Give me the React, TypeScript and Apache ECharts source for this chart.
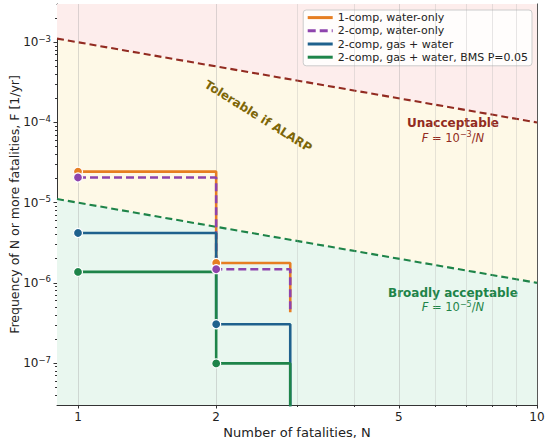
import React, { useEffect, useRef } from "react";
import * as echarts from "echarts";

// ---- data ----
const stepN = [1, 2, 2.9];
const oneCompWaterF = [2.44e-5, 1.77e-6];
const oneCompWaterEnd = 4.3e-7;
const twoCompWaterF = [2.06e-5, 1.48e-6];
const twoCompWaterEnd = 4.3e-7;
const twoCompGasF = [4.19e-6, 3.05e-7];
const twoCompGasEnd = 1e-9;
const bmsF = [1.37e-6, 9.9e-8];
const bmsEnd = 1e-9;

const criteriaN = [0.9, 10];
const unacceptableF = [1.111e-3, 1e-4];
const broadlyF = [1.111e-5, 1e-6];

const xMajorTicks = [1, 2, 5, 10];
const xMinorTicks = [3, 4, 6, 7, 8, 9];
const yMajorTicks = [1e-7, 1e-6, 1e-5, 1e-4, 1e-3];
const yMinorMantissas = [2, 3, 4, 5, 6, 7, 8, 9];
const yDecades = [1e-8, 1e-7, 1e-6, 1e-5, 1e-4, 1e-3];

const X_MIN = 0.9;
const X_MAX = 10;
const Y_MIN = 3e-8;
const Y_MAX = 3e-3;

const yMinorTicks: number[] = [];
yDecades.forEach((d) =>
  yMinorMantissas.forEach((m) => {
    const v = m * d;
    if (v > Y_MIN * 1.0001 && v < Y_MAX * 0.9999) yMinorTicks.push(v);
  })
);

const C_ORANGE = "#e67e22";
const C_PURPLE = "#8e44ad";
const C_BLUE = "#1f618d";
const C_GREEN = "#1e8449";
const C_RED = "#922b21";
const C_OLIVE = "#7d6608";
const FONT = "DejaVu Sans";

function stepLine(F: number[], end: number) {
  const pts: number[][] = [];
  for (let i = 0; i < F.length; i++) {
    pts.push([stepN[i], F[i]]);
    pts.push([stepN[i + 1], F[i]]);
  }
  pts.push([stepN[F.length], end]);
  return pts;
}

function markers(F: number[]) {
  return F.map((f, i) => [stepN[i], f]);
}

function zip(a: number[], b: number[]) {
  return a.map((v, i) => [v, b[i]]);
}

function supFmt(v: number) {
  const e = Math.round(Math.log10(v));
  return `{b|10}{s|${e < 0 ? "\u2212" + -e : e}}`;
}

const mathRich = (color: string) => ({
  i: { fontStyle: "italic", fontSize: 11.5, color, fontFamily: FONT },
  n: { fontSize: 11.5, color, fontFamily: FONT },
  s: { fontSize: 8, color, fontFamily: FONT, verticalAlign: "top", padding: [0, 0, 6, 0] },
  t: { fontSize: 12, fontWeight: "bold", color, fontFamily: FONT, lineHeight: 15 },
});

export default function App() {
  const ref = useRef<HTMLDivElement>(null);

  useEffect(() => {
    if (!ref.current) return;
    const chart = echarts.init(ref.current, undefined, { renderer: "svg" });

    const stepSeries = (name: string, F: number[], end: number, color: string, dashed: boolean) => ({
      name,
      type: "line",
      data: stepLine(F, end),
      symbol: "none",
      clip: true,
      z: 5,
      lineStyle: { color, width: 2.6, type: dashed ? [8, 4] : "solid" },
      itemStyle: { color },
    });
    const markerSeries = (F: number[], color: string) => ({
      name: "m_" + color,
      type: "scatter",
      data: markers(F),
      symbol: "circle",
      symbolSize: 9,
      z: 6,
      itemStyle: { color, borderColor: "#ffffff", borderWidth: 1.2, opacity: 1 },
    });

    const gridLine = (color: string, opacity: number) => ({
      silent: true,
      symbol: "none",
      label: { show: false },
      lineStyle: { color, width: 0.8, type: "solid", opacity },
      emphasis: { disabled: true },
      animation: false,
    });

    const annotation = (name: string, point: number[], label: any) => ({
      name,
      type: "scatter",
      data: [point],
      symbolSize: 0,
      silent: true,
      z: 4,
      itemStyle: { opacity: 1 },
      label: { show: true, position: "inside", opacity: 1, ...label },
    });

    const option: any = {
      animation: false,
      textStyle: { fontFamily: FONT },
      grid: {
        left: 57,
        right: 13,
        top: 4,
        bottom: 41,
        show: true,
        backgroundColor: "#fef9e7",
        borderWidth: 0,
        containLabel: false,
        outerBoundsMode: "none",
      },
      legend: {
        data: [
          "1-comp, water-only",
          "2-comp, water-only",
          "2-comp, gas + water",
          "2-comp, gas + water, BMS P=0.05",
        ],
        orient: "vertical",
        right: 18,
        top: 10,
        itemWidth: 25,
        itemHeight: 14,
        itemGap: 2,
        padding: [2, 4, 3, 3],
        backgroundColor: "rgba(255,255,255,0.85)",
        borderColor: "#cccccc",
        borderWidth: 1,
        borderRadius: 3,
        itemStyle: { opacity: 0, borderWidth: 0 },
        lineStyle: { width: 3 },
        textStyle: { fontSize: 11, color: "#222", fontFamily: FONT },
      },
      xAxis: [
        {
          type: "log",
          logBase: 10,
          min: X_MIN,
          max: X_MAX,
          name: "Number of fatalities, N",
          nameLocation: "middle",
          nameGap: 21,
          nameMoveOverlap: false,
          nameTextStyle: { fontSize: 13, color: "#222", fontFamily: FONT },
          axisLine: { show: true, lineStyle: { color: "#333", width: 1 } },
          axisTick: { show: true, customValues: xMajorTicks, length: 3.5, lineStyle: { color: "#333" } },
          axisLabel: {
            show: true,
            customValues: xMajorTicks,
            fontSize: 12,
            color: "#222",
            margin: 6,
            formatter: (v: number) => String(Math.round(v)),
          },
          splitLine: { show: false },
          minorTick: { show: false },
        },
        {
          type: "log",
          logBase: 10,
          min: X_MIN,
          max: X_MAX,
          position: "bottom",
          axisLine: { show: false },
          axisTick: { show: true, customValues: xMinorTicks, length: 2, lineStyle: { color: "#333" } },
          axisLabel: { show: false },
          splitLine: { show: false },
        },
        {
          type: "log",
          logBase: 10,
          min: X_MIN,
          max: X_MAX,
          position: "top",
          axisLine: { show: true, lineStyle: { color: "#333", width: 1 } },
          axisTick: { show: false },
          axisLabel: { show: false },
          splitLine: { show: false },
        },
      ],
      yAxis: [
        {
          type: "log",
          logBase: 10,
          min: Y_MIN,
          max: Y_MAX,
          position: "left",
          name: "Frequency of N or more fatalities, F [1/yr]",
          nameLocation: "middle",
          nameGap: 36,
          nameMoveOverlap: false,
          nameTextStyle: { fontSize: 12.5, color: "#222", fontFamily: FONT },
          axisLine: { show: true, lineStyle: { color: "#333", width: 1 } },
          axisTick: { show: true, customValues: yMajorTicks, length: 3.5, lineStyle: { color: "#333" } },
          axisLabel: {
            show: true,
            customValues: yMajorTicks,
            margin: 6,
            formatter: supFmt,
            rich: {
              b: { fontSize: 12, color: "#222", fontFamily: FONT },
              s: { fontSize: 8.5, color: "#222", fontFamily: FONT, verticalAlign: "top", padding: [0, 0, 7, 0] },
            },
          },
          splitLine: { show: false },
        },
        {
          type: "log",
          logBase: 10,
          min: Y_MIN,
          max: Y_MAX,
          position: "left",
          axisLine: { show: false },
          axisTick: { show: true, customValues: yMinorTicks, length: 2, lineStyle: { color: "#333" } },
          axisLabel: { show: false },
          splitLine: { show: false },
        },
        {
          type: "log",
          logBase: 10,
          min: Y_MIN,
          max: Y_MAX,
          position: "right",
          axisLine: { show: true, lineStyle: { color: "#333", width: 1 } },
          axisTick: { show: false },
          axisLabel: { show: false },
          splitLine: { show: false },
        },
      ],
      series: [
        // background regions
        {
          name: "unacc_area",
          type: "line",
          data: zip(criteriaN, unacceptableF),
          symbol: "none",
          z: 1,
          silent: true,
          lineStyle: { width: 0 },
          areaStyle: { origin: "end", color: "#fdedec", opacity: 1 },
        },
        {
          name: "broad_area",
          type: "line",
          data: zip(criteriaN, broadlyF),
          symbol: "none",
          z: 1,
          silent: true,
          lineStyle: { width: 0 },
          areaStyle: { origin: "start", color: "#e9f7ef", opacity: 1 },
        },
        // grid lines
        {
          name: "grid_major",
          type: "line",
          data: [],
          z: 2,
          markLine: {
            ...gridLine("#9e9e9e", 0.45),
            data: [
              ...xMajorTicks.map((v) => ({ xAxis: v })),
              ...yMajorTicks.map((v) => ({ yAxis: v })),
            ],
          },
        },
        {
          name: "grid_minor",
          type: "line",
          data: [],
          z: 2,
          markLine: {
            ...gridLine("#a8a8a8", 0.35),
            data: [
              ...xMinorTicks.map((v) => ({ xAxis: v })),
              ...yMinorTicks.map((v) => ({ yAxis: v })),
            ],
          },
        },
        // criteria lines
        {
          name: "unacc_line",
          type: "line",
          data: zip(criteriaN, unacceptableF),
          symbol: "none",
          z: 3,
          silent: true,
          lineStyle: { color: C_RED, width: 2.1, type: [7, 4] },
        },
        {
          name: "broad_line",
          type: "line",
          data: zip(criteriaN, broadlyF),
          symbol: "none",
          z: 3,
          silent: true,
          lineStyle: { color: C_GREEN, width: 2.1, type: [7, 4] },
        },
        // step curves
        stepSeries("1-comp, water-only", oneCompWaterF, oneCompWaterEnd, C_ORANGE, false),
        markerSeries(oneCompWaterF, C_ORANGE),
        stepSeries("2-comp, water-only", twoCompWaterF, twoCompWaterEnd, C_PURPLE, true),
        markerSeries(twoCompWaterF, C_PURPLE),
        stepSeries("2-comp, gas + water", twoCompGasF, twoCompGasEnd, C_BLUE, false),
        markerSeries(twoCompGasF, C_BLUE),
        stepSeries("2-comp, gas + water, BMS P=0.05", bmsF, bmsEnd, C_GREEN, false),
        markerSeries(bmsF, C_GREEN),
        // annotations
        annotation("ann_unacc", [6.56, 8.0e-5], {
          align: "center",
          formatter: "{t|Unacceptable}\n{i|F}{n| = 10}{s|\u22123}{n|/}{i|N}",
          rich: mathRich(C_RED),
        }),
        annotation("ann_broad", [6.56, 6.15e-7], {
          align: "center",
          formatter: "{t|Broadly acceptable}\n{i|F}{n| = 10}{s|\u22125}{n|/}{i|N}",
          rich: mathRich(C_GREEN),
        }),
        annotation("ann_alarp", [2.47, 1.2e-4], {
          rotate: -32,
          formatter: "Tolerable if ALARP",
          fontSize: 12,
          fontWeight: "bold",
          color: C_OLIVE,
          fontFamily: FONT,
        }),
      ],
    };

    chart.setOption(option);
    return () => chart.dispose();
  }, []);

  return (
    <div
      ref={ref}
      style={{ position: "absolute", left: 0, top: 0, width: 550, height: 446, background: "#fff" }}
    />
  );
}
